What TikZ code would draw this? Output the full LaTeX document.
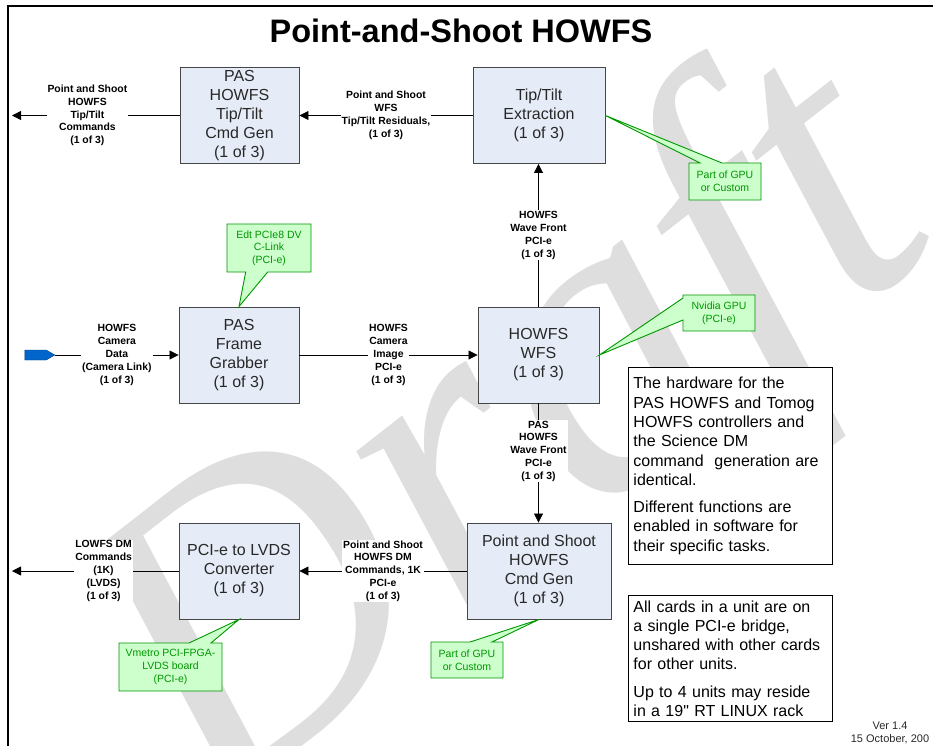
\documentclass[tikz,border=0pt]{standalone}
\usepackage{fontspec}
\setmainfont{Liberation Sans}[Ligatures=TeXOff]
\newfontfamily\draftfont{Liberation Serif}
\usetikzlibrary{arrows.meta,shapes.callouts,shapes.symbols}
\definecolor{boxfill}{RGB}{230,236,247}
\definecolor{boxline}{RGB}{70,70,70}
\definecolor{ink}{RGB}{40,40,40}
\definecolor{leaf}{RGB}{0,150,0}
\definecolor{leaffill}{RGB}{204,255,204}
\definecolor{camblue}{RGB}{0,102,204}
\definecolor{wmark}{RGB}{222,222,222}
\tikzset{
  box/.style={draw=boxline,fill=boxfill,line width=0.9pt,align=center,text=ink,
    font=\fontsize{16}{19}\selectfont,inner sep=0pt,minimum width=120pt,minimum height=96pt},
  flow/.style={-{Triangle[length=9pt,width=9pt]},line width=0.8pt,draw=black},
  lbl/.style={fill=white,align=center,font=\fontsize{10.4}{12.8}\selectfont\bfseries,inner sep=1pt},
  % green callouts
  hw/.style={rectangle callout,callout absolute pointer={#1},callout pointer width=22pt,
    draw=leaf,fill=leaffill,line width=0.9pt,text=leaf,align=center,
    font=\fontsize{10.5}{12.7}\selectfont,inner sep=2pt},
  % side notes
  note/.style={draw=black,fill=white,line width=0.9pt,align=left,text width=194pt,
    inner sep=5pt,anchor=north west,font=\fontsize{16}{19.3}\selectfont},
}
\begin{document}
\begin{tikzpicture}[x=1pt,y=-1pt]
  \useasboundingbox (0,0) rectangle (933,745);
  \clip (0,0) rectangle (933,745);
  \node[text=wmark,rotate=38,font=\draftfont\itshape\fontsize{430}{430}\selectfont] (draft) at (515,445) {Draft};
  \draw[line width=2pt] (8,760) |- (945,6);
  \node[font=\fontsize{32.5}{36}\selectfont\bfseries] (title) at (461,31) {Point-and-Shoot HOWFS};

  % cards
  \node[box,minimum width=119pt] (ttgen) at (239.5,115.5) {PAS\\HOWFS\\Tip/Tilt\\Cmd Gen\\(1 of 3)};
  \node[box,minimum width=132pt] (ttx) at (539,115.5) {Tip/Tilt\\Extraction\\(1 of 3)};
  \node[box] (fg) at (239,355) {PAS\\Frame\\Grabber\\(1 of 3)};
  \node[box,minimum width=121pt] (wfs) at (538.5,355) {HOWFS\\WFS\\(1 of 3)};
  \node[box] (lvds) at (239,571) {PCI-e to LVDS\\Converter\\(1 of 3)};
  \node[box,minimum width=144pt] (dmgen) at (539,571) {Point and Shoot\\HOWFS\\Cmd Gen\\(1 of 3)};

  % data paths
  \coordinate (ttout) at (12,115.5);
  \coordinate (dmout) at (12,571);
  \node[signal,signal to=east,signal pointer angle=60,draw=camblue!60!black,fill=camblue,
    minimum width=30pt,minimum height=10pt,inner sep=0pt] (cam) at (35.5,355) {};
  \draw[flow] (ttx.west) -- (ttgen.east) node[lbl,midway] {Point and Shoot\\WFS\\Tip/Tilt Residuals,\\(1 of 3)};
  \draw[flow] (ttgen.west) -- (ttout) node[lbl,pos=0.55] {Point and Shoot\\HOWFS\\Tip/Tilt\\Commands\\(1 of 3)};
  \draw[flow] (cam.east) -- (fg.west) node[lbl,midway] {HOWFS\\Camera\\Data\\(Camera Link)\\(1 of 3)};
  \draw[flow] (fg.east) -- (wfs.west) node[lbl,midway] {HOWFS\\Camera\\Image\\PCI-e\\(1 of 3)};
  \draw[flow] (wfs.north) -- (wfs.north |- ttx.south) node[lbl,midway] {HOWFS\\Wave Front\\PCI-e\\(1 of 3)};
  \draw[flow] (wfs.south) -- (wfs.south |- dmgen.north) node[lbl,pos=0.4] {PAS\\HOWFS\\Wave Front\\PCI-e\\(1 of 3)};
  \draw[flow] (dmgen.west) -- (lvds.east) node[lbl,midway] {Point and Shoot\\HOWFS DM\\Commands, 1K\\PCI-e\\(1 of 3)};
  \draw[flow] (lvds.west) -- (dmout) node[lbl,pos=0.45] {LOWFS DM\\Commands\\(1K)\\(LVDS)\\(1 of 3)};

  % hardware callouts
  \node[hw={(fg.north)},minimum width=84pt,minimum height=48pt] (edt) at (269,248) {Edt PCIe8 DV\\C-Link\\(PCI-e)};
  \node[hw={(ttx.east)},minimum width=72pt,minimum height=37pt] (gpu1) at (725,181.5) {Part of GPU\\or Custom};
  \node[hw={(wfs.east)},minimum width=72pt,minimum height=36pt] (nvidia) at (719,313) {Nvidia GPU\\(PCI-e)};
  \node[hw={(lvds.south)},minimum width=103pt,minimum height=48pt] (vmetro) at (170.5,667) {Vmetro PCI-FPGA-\\LVDS board\\(PCI-e)};
  \node[hw={(dmgen.south)},minimum width=72pt,minimum height=36pt] (gpu2) at (467,660) {Part of GPU\\or Custom};

  % notes
  \node[note,minimum height=197pt] (hwnote) at (628,367) {The hardware for the\\PAS HOWFS and Tomog\\HOWFS controllers and\\the Science DM\\command\ \ generation are\\identical.\\[8pt]Different functions are\\enabled in software for\\their specific tasks.};
  \node[note] (pcinote) at (628,595) {All cards in a unit are on\\a single PCI-e bridge,\\unshared with other cards\\for other units.\\[8pt]Up to 4 units may reside\\in a 19" RT LINUX rack};
  \node[align=center,font=\fontsize{11}{13}\selectfont,text=ink] (ver) at (890,733) {Ver 1.4\\15 October, 200};
\end{tikzpicture}
\end{document}
